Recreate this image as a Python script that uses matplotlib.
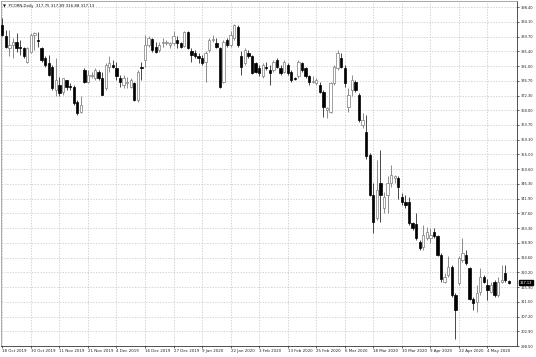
import numpy as np
import matplotlib
matplotlib.use('Agg')
from matplotlib import pyplot as plt

# PCORN daily candles
opens = [393.2, 389.8, 386.3, 387.3, 388.3, 386.8, 386.3, 382.4, 385.3, 390.3,
         388.8, 386.3, 383.4, 381.9, 380.9, 374.0, 375.5, 373.5, 377.0, 375.0,
         374.8, 370.6, 367.6, 379.9, 376.5, 378.2, 377.5, 379.4, 377.5, 374.5,
         380.9, 381.4, 380.4, 377.5, 375.5, 376.0, 375.0, 376.0, 371.1, 380.9,
         382.9, 387.3, 389.0, 386.8, 385.8, 387.8, 387.8, 387.3, 387.8, 388.8,
         387.8, 387.0, 391.0, 385.4, 384.9, 383.9, 383.4, 382.4, 385.8, 388.8,
         387.8, 386.3, 376.5, 388.8, 387.3, 389.3, 392.7, 383.9, 381.9, 384.9,
         384.1, 381.9, 380.4, 378.0, 380.9, 379.9, 379.9, 382.9, 380.4, 379.4,
         381.4, 379.2, 377.5, 378.0, 381.9, 380.4, 378.0, 376.5, 376.0, 375.5,
         373.5, 368.0, 367.6, 376.0, 380.4, 383.4, 380.4, 369.1, 374.0, 376.5,
         372.6, 363.7, 361.7, 354.8, 343.0, 336.2, 346.5, 339.1, 343.0, 346.5,
         348.0, 348.0, 342.5, 341.1, 341.1, 334.7, 334.5, 329.3, 327.8, 330.3,
         330.3, 332.2, 330.8, 325.4, 317.5, 319.4, 321.9, 313.5, 317.0, 323.9,
         325.4, 321.4, 312.5, 311.6, 314.5, 318.9, 316.5, 314.5, 317.5, 313.5,
         317.5, 320.0, 317.75]
highs = [395.2, 391.7, 391.7, 389.3, 390.8, 388.8, 386.8, 386.8, 390.8, 391.2,
         391.2, 386.8, 383.9, 384.4, 381.4, 383.4, 377.9, 377.5, 377.0, 376.0,
         375.5, 371.1, 372.1, 380.4, 379.9, 379.4, 380.4, 379.9, 379.4, 381.9,
         383.9, 382.9, 382.4, 378.5, 378.5, 377.9, 377.5, 376.5, 379.9, 382.4,
         390.3, 389.8, 389.3, 388.3, 388.3, 389.3, 388.8, 388.3, 391.3, 389.8,
         388.3, 391.3, 391.3, 386.3, 385.8, 384.9, 384.4, 385.4, 389.3, 390.3,
         389.3, 386.8, 388.8, 389.3, 391.3, 393.5, 393.2, 385.4, 386.3, 385.8,
         384.4, 382.4, 381.4, 381.9, 382.4, 381.4, 382.9, 383.4, 381.4, 382.9,
         381.9, 379.9, 377.7, 382.9, 382.4, 380.9, 378.5, 378.0, 377.5, 376.5,
         374.0, 369.1, 376.5, 381.4, 385.8, 384.9, 381.4, 374.5, 378.5, 377.0,
         373.1, 367.2, 366.7, 355.3, 346.5, 353.4, 356.3, 344.0, 348.5, 351.9,
         349.0, 348.5, 343.5, 343.0, 342.5, 335.2, 337.6, 329.8, 334.2, 333.7,
         333.2, 333.2, 331.2, 325.8, 319.9, 324.9, 322.4, 314.0, 324.9, 330.3,
         326.8, 321.9, 313.0, 316.5, 321.4, 319.4, 318.4, 317.5, 318.0, 318.9,
         322.4, 322.4, 317.89]
lows = [389.8, 386.3, 383.9, 383.4, 385.3, 384.4, 383.4, 381.9, 384.9, 385.8,
        386.8, 382.4, 380.9, 378.0, 374.0, 372.1, 372.1, 372.5, 374.0, 374.0,
        369.6, 366.6, 367.1, 376.0, 376.0, 377.5, 377.0, 377.0, 372.5, 374.0,
        379.4, 380.4, 377.0, 375.0, 374.5, 374.5, 374.5, 370.8, 370.6, 377.0,
        380.9, 386.8, 385.3, 384.9, 385.3, 386.8, 387.3, 386.3, 387.3, 386.3,
        386.3, 386.8, 386.0, 382.4, 383.4, 381.9, 381.4, 376.5, 385.3, 388.3,
        386.3, 374.5, 376.0, 386.8, 386.8, 388.8, 386.8, 378.5, 381.4, 383.4,
        378.8, 378.9, 378.0, 377.5, 379.9, 375.5, 379.4, 380.4, 378.5, 378.9,
        378.5, 376.5, 377.0, 377.5, 379.4, 377.5, 375.5, 376.0, 375.5, 373.0,
        366.1, 365.7, 367.1, 375.5, 379.9, 380.4, 375.0, 367.6, 372.1, 373.5,
        364.7, 362.7, 353.8, 342.6, 331.7, 335.7, 335.2, 337.6, 337.6, 345.5,
        346.5, 342.0, 340.0, 339.1, 334.2, 332.7, 329.8, 326.8, 326.8, 329.8,
        328.8, 330.3, 324.9, 317.5, 317.0, 318.9, 313.0, 300.5, 316.5, 323.4,
        322.4, 312.1, 309.1, 308.6, 313.5, 317.0, 312.1, 314.0, 313.0, 313.0,
        317.0, 317.5, 316.88]
closes = [390.3, 386.8, 387.3, 388.3, 386.3, 386.3, 383.9, 386.3, 390.3, 390.8,
          388.6, 382.9, 381.4, 378.5, 374.5, 377.0, 373.0, 377.5, 375.0, 374.8,
          370.1, 367.1, 369.6, 376.5, 378.5, 378.5, 379.9, 377.5, 372.5, 381.4,
          381.9, 380.9, 378.0, 376.5, 377.5, 376.5, 377.0, 371.1, 379.4, 380.4,
          387.3, 389.3, 385.8, 385.3, 387.3, 388.3, 388.0, 388.0, 389.8, 387.8,
          386.8, 391.0, 386.3, 384.4, 383.9, 383.4, 382.1, 384.9, 388.8, 389.0,
          386.6, 375.0, 388.3, 387.3, 390.3, 393.2, 387.3, 380.9, 385.8, 383.9,
          378.9, 379.4, 378.9, 381.4, 380.4, 378.9, 382.4, 380.9, 378.9, 382.4,
          378.9, 377.0, 377.3, 382.4, 379.9, 378.0, 376.5, 376.7, 377.0, 373.5,
          369.1, 368.6, 376.0, 380.9, 384.9, 380.9, 376.0, 372.5, 377.0, 374.0,
          365.2, 365.2, 354.4, 343.0, 335.2, 344.5, 343.0, 342.5, 346.5, 349.0,
          348.5, 345.5, 341.1, 340.1, 334.7, 333.2, 330.3, 327.3, 331.2, 332.2,
          331.2, 330.8, 325.4, 318.4, 318.9, 321.9, 313.5, 309.1, 324.4, 325.8,
          322.9, 312.5, 311.1, 314.0, 318.9, 317.5, 315.0, 316.5, 313.5, 317.5,
          318.0, 318.0, 317.13]

date_labels = ['18 Oct 2019', '30 Oct 2019', '11 Nov 2019', '21 Nov 2019', '4 Dec 2019',
               '16 Dec 2019', '27 Dec 2019', '9 Jan 2020', '22 Jan 2020', '3 Feb 2020',
               '13 Feb 2020', '25 Feb 2020', '6 Mar 2020', '18 Mar 2020', '30 Mar 2020',
               '9 Apr 2020', '22 Apr 2020', '4 May 2020']
price_labels = ['398.40', '394.10', '389.70', '385.40', '381.00', '376.70', '372.30',
                '368.00', '363.70', '359.30', '355.00', '350.60', '346.30', '341.90',
                '337.60', '333.30', '328.90', '324.60', '320.20', '315.90', '311.50',
                '307.20', '302.90', '298.50']

o = np.array(opens)
h = np.array(highs)
l = np.array(lows)
c = np.array(closes)
x = np.arange(len(o))
up = c >= o

fig = plt.figure(figsize=(5.36, 3.57), dpi=100)
ax = fig.add_axes([0.002, 11/357, 516/536, 345/357])

# grid
grid_kw = dict(color='#c4c4c4', lw=0.5, linestyle=(0, (2, 2)), zorder=0)
ticks_y = [float(p) for p in price_labels]
for yv in ticks_y:
    ax.axhline(yv, **grid_kw)
xt = np.arange(0, len(date_labels) * 8, 8)
for xv in xt:
    ax.axvline(xv, **grid_kw)

# wicks
ax.vlines(x[up], l[up], h[up], color='#7a7a7a', lw=0.6, zorder=2)
ax.vlines(x[~up], l[~up], h[~up], color='#2a2a2a', lw=0.6, zorder=2)

# bodies
body_lo = np.minimum(o, c)
body_h = np.maximum(np.abs(c - o), 0.25)
ax.bar(x[up], body_h[up], bottom=body_lo[up], width=0.65, color='white',
       edgecolor='#7a7a7a', linewidth=0.5, zorder=3)
ax.bar(x[~up], body_h[~up], bottom=body_lo[~up], width=0.65, color='black',
       edgecolor='black', linewidth=0.5, zorder=3)

ax.set_xlim(-0.35, 144.3)
ax.set_ylim(298.5, 400.26)

ax.yaxis.tick_right()
ax.set_yticks(ticks_y)
ax.set_yticklabels(price_labels)
ax.set_xticks(xt)
ax.set_xticklabels(date_labels, ha='left')
ax.tick_params(axis='y', labelsize=2.6, length=1.5, width=0.5, pad=1.2, colors='#222222')
ax.tick_params(axis='x', labelsize=2.9, length=1.5, width=0.5, pad=1.0, colors='#222222')

for side in ['top', 'left']:
    ax.spines[side].set_color('#9a9a9a')
    ax.spines[side].set_linewidth(0.6)
for side in ['right', 'bottom']:
    ax.spines[side].set_color('#333333')
    ax.spines[side].set_linewidth(0.6)

# title
ax.text(0.004, 0.992, '\u25bc  PCORN,Daily  317.75 317.89 316.88 317.13',
        transform=ax.transAxes, fontsize=2.8, va='top', ha='left', color='#111111')

# current price label
ax.annotate('317.13', xy=(1.0, closes[-1]), xycoords=('axes fraction', 'data'),
            xytext=(2, 0), textcoords='offset points', fontsize=2.6, color='white',
            va='center', ha='left',
            bbox=dict(boxstyle='square,pad=0.15', fc='black', ec='black'))

fig.savefig('out.png', dpi=100)
